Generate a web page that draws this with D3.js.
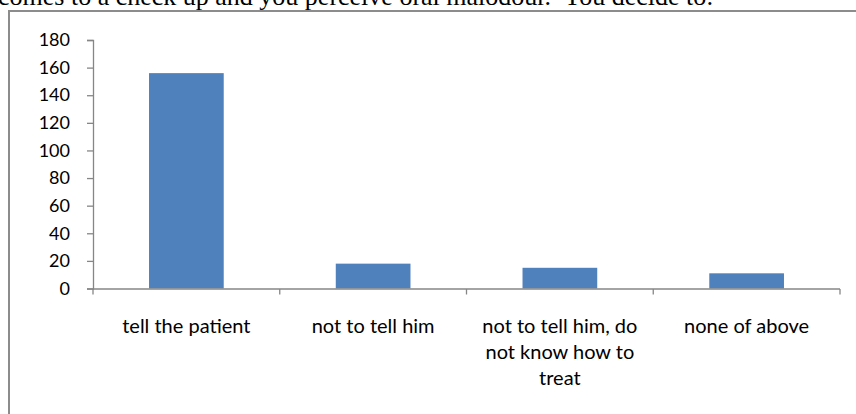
<!DOCTYPE html>
<html>
<head>
<meta charset="utf-8">
<script src="https://cdn.jsdelivr.net/npm/d3@7"></script>
<style>
  html, body { margin: 0; padding: 0; background: #fff; }
  svg { display: block; }
</style>
</head>
<body>
<svg id="chart" width="856" height="414"></svg>
<script>
// Survey answers: what the dentist does on perceiving oral malodour
const categories = [
  "tell the patient",
  "not to tell him",
  "not to tell him, do not know how to treat",
  "none of above"
];
const counts = [156, 18, 15, 11];
const yTicks = [0, 20, 40, 60, 80, 100, 120, 140, 160, 180];
const questionText = "comes to a check up and you perceive oral malodour.  You decide to:";

const svg = d3.select("#chart");
const axisColor = "#868686";
const barColor = "#4F81BD";
const labelFont = "Lato, 'Open Sans', sans-serif";

// Question text running above the chart frame
svg.append("text")
  .attr("x", -2)
  .attr("y", 5)
  .attr("font-family", "'Liberation Serif', 'Times New Roman', serif")
  .attr("font-size", 26)
  .attr("fill", "#000")
  .attr("xml:space", "preserve")
  .text(questionText);

// Chart frame (left and top edges visible)
svg.append("path")
  .attr("d", "M9,420 L9,11 L870,11")
  .attr("fill", "none")
  .attr("stroke", "#8c8c8c")
  .attr("stroke-width", 2);

const plot = { left: 93, right: 840, top: 40, bottom: 288.5 };

const x = d3.scaleBand()
  .domain(categories)
  .range([plot.left, plot.right])
  .padding(0);

const y = d3.scaleLinear()
  .domain([0, 180])
  .range([plot.bottom, plot.top]);

// Bars: 40% of each category slot, centered
const barFrac = 0.4;
svg.append("g")
  .selectAll("rect")
  .data(categories)
  .join("rect")
  .attr("x", (d) => x(d) + x.bandwidth() * (1 - barFrac) / 2)
  .attr("width", x.bandwidth() * barFrac)
  .attr("y", (d, i) => y(counts[i]))
  .attr("height", (d, i) => y(0) - y(counts[i]))
  .attr("fill", barColor);

// Y axis
const yAxis = svg.append("g")
  .attr("transform", `translate(${plot.left},0)`)
  .call(d3.axisLeft(y).tickValues(yTicks).tickSize(6).tickPadding(17));
yAxis.select(".domain").attr("stroke", axisColor).attr("stroke-width", 1.3);
yAxis.selectAll(".tick line").attr("stroke", axisColor).attr("stroke-width", 1.3);
yAxis.selectAll(".tick text")
  .attr("fill", "#000")
  .attr("font-family", labelFont)
  .attr("font-size", 18);

// X axis: ticks at category boundaries
const xAxisG = svg.append("g");
xAxisG.append("line")
  .attr("x1", plot.left).attr("x2", plot.right)
  .attr("y1", y(0) + 0.5).attr("y2", y(0) + 0.5)
  .attr("stroke", axisColor).attr("stroke-width", 1.3);
const boundaries = categories.map((c) => x(c)).concat([x(categories[categories.length - 1]) + x.bandwidth()]);
xAxisG.selectAll("line.tick")
  .data(boundaries)
  .join("line")
  .attr("class", "tick")
  .attr("x1", (d) => d).attr("x2", (d) => d)
  .attr("y1", y(0) + 0.5).attr("y2", y(0) + 6)
  .attr("stroke", axisColor).attr("stroke-width", 1.3);

// Category labels, wrapped to the slot width
const wrapWidth = 172;
const lineHeight = 26;
const labels = xAxisG.selectAll("text.cat")
  .data(categories)
  .join("text")
  .attr("class", "cat")
  .attr("text-anchor", "middle")
  .attr("font-family", labelFont)
  .attr("font-size", 20)
  .attr("fill", "#000")
  .attr("x", (d) => x(d) + x.bandwidth() / 2)
  .attr("y", 333);

labels.each(function (d) {
  const t = d3.select(this);
  const cx = x(d) + x.bandwidth() / 2;
  const words = d.split(" ");
  let line = [];
  let tspan = t.append("tspan").attr("x", cx).attr("dy", 0);
  for (const w of words) {
    line.push(w);
    tspan.text(line.join(" "));
    if (tspan.node().getComputedTextLength() > wrapWidth && line.length > 1) {
      line.pop();
      tspan.text(line.join(" "));
      line = [w];
      tspan = t.append("tspan").attr("x", cx).attr("dy", lineHeight).text(w);
    }
  }
});
</script>
</body>
</html>
